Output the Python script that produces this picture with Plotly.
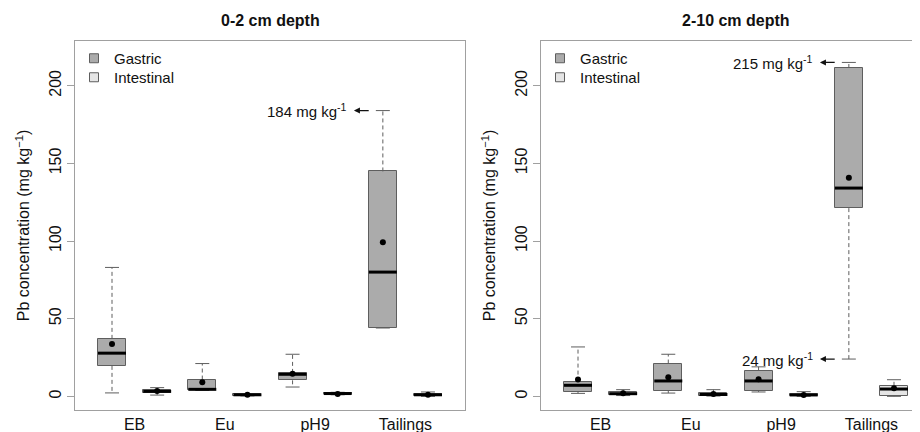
import plotly.graph_objects as go

# ---------------- data ----------------
categories = ["EB", "Eu", "pH9", "Tailings"]
panel_titles = ["0-2 cm depth", "2-10 cm depth"]
group_names = ["Gastric", "Intestinal"]

# 0-2 cm depth
g1_lower = [2.2, 3.8, 6.0, 44.0]
g1_q1 = [19.6, 3.9, 10.3, 44.0]
g1_median = [27.8, 4.5, 14.2, 80.0]
g1_q3 = [37.0, 10.8, 15.1, 144.8]
g1_upper = [83.0, 21.1, 27.1, 184.0]
g1_mean = [33.7, 9.0, 14.6, 99.2]

i1_lower = [0.8, 0.3, 1.0, 0.0]
i1_q1 = [2.1, 0.5, 1.3, 0.3]
i1_median = [3.2, 1.0, 1.8, 1.0]
i1_q3 = [3.9, 1.5, 2.3, 1.5]
i1_upper = [5.6, 1.8, 2.6, 2.8]
i1_mean = [3.4, 1.0, 1.5, 1.0]

# 2-10 cm depth
g2_lower = [1.9, 2.1, 2.8, 24.0]
g2_q1 = [3.0, 3.7, 3.4, 121.2]
g2_median = [7.1, 9.9, 9.9, 134.1]
g2_q3 = [9.5, 21.1, 16.6, 211.4]
g2_upper = [31.8, 27.1, 19.0, 215.0]
g2_mean = [10.8, 12.3, 11.0, 140.8]

i2_lower = [0.5, 0.2, 0.0, 0.0]
i2_q1 = [0.9, 0.4, 0.3, 0.2]
i2_median = [1.7, 1.2, 0.9, 4.7]
i2_q3 = [2.6, 2.1, 1.5, 6.8]
i2_upper = [4.3, 4.3, 3.0, 10.7]
i2_mean = [2.0, 1.5, 0.9, 5.2]

y_ticks = [0, 50, 100, 150, 200]

# labelled whisker ends: (panel, category index, group index, which end)
labelled = [(0, 3, 0, "upper"), (1, 3, 0, "upper"), (1, 3, 0, "lower")]

# ---------------- styling ----------------
FILL = ["#ABABAB", "#E5E5E5"]
EDGE = "#5E5E5E"
FRAME = "#A0A0A0"
FONT = "Liberation Sans, Arial, sans-serif"
BOXW = 0.62
CAPW = 0.31

# page has an 8px body margin; layout in figure pixels
W, H = 920, 432
ML, MT, MR, MB = 67, 33, 0, 30
PW = W - ML - MR          # 853
PH = H - MT - MB          # 369
PX_PER_UNIT = 390 / 8.64

panels = [
    [dict(lower=g1_lower, q1=g1_q1, median=g1_median, q3=g1_q3, upper=g1_upper, mean=g1_mean),
     dict(lower=i1_lower, q1=i1_q1, median=i1_median, q3=i1_q3, upper=i1_upper, mean=i1_mean)],
    [dict(lower=g2_lower, q1=g2_q1, median=g2_median, q3=g2_q3, upper=g2_upper, mean=g2_mean),
     dict(lower=i2_lower, q1=i2_q1, median=i2_median, q3=i2_q3, upper=i2_upper, mean=i2_mean)],
]

fig = go.Figure()

legend_ids = [["legend", "legend3"], ["legend2", "legend4"]]

for p, groups in enumerate(panels):
    xa = "x" if p == 0 else "x2"
    ya = "y" if p == 0 else "y2"
    for g, d in enumerate(groups):
        pos = [2 * i + 1 + g for i in range(len(categories))]
        # whiskers (dashed)
        wx, wy = [], []
        for k, x in enumerate(pos):
            wx += [x, x, None, x, x, None]
            wy += [d["q3"][k], d["upper"][k], None, d["q1"][k], d["lower"][k], None]
        fig.add_trace(go.Scatter(x=wx, y=wy, mode="lines", xaxis=xa, yaxis=ya,
                                 line=dict(color=EDGE, width=1, dash="4px,3px"),
                                 showlegend=False, hoverinfo="skip"))
        # caps
        cx, cy = [], []
        for k, x in enumerate(pos):
            for end in ("upper", "lower"):
                cx += [x - CAPW / 2, x + CAPW / 2, None]
                cy += [d[end][k], d[end][k], None]
        fig.add_trace(go.Scatter(x=cx, y=cy, mode="lines", xaxis=xa, yaxis=ya,
                                 line=dict(color=EDGE, width=1),
                                 showlegend=False, hoverinfo="skip"))
        # boxes
        fig.add_trace(go.Bar(x=pos, y=[d["q3"][k] - d["q1"][k] for k in range(len(pos))],
                             base=d["q1"], width=BOXW, xaxis=xa, yaxis=ya,
                             marker=dict(color=FILL[g], line=dict(color=EDGE, width=1)),
                             showlegend=False, hoverinfo="skip"))
        # medians
        mx, my = [], []
        for k, x in enumerate(pos):
            mx += [x - BOXW / 2, x + BOXW / 2, None]
            my += [d["median"][k], d["median"][k], None]
        fig.add_trace(go.Scatter(x=mx, y=my, mode="lines", xaxis=xa, yaxis=ya,
                                 line=dict(color="black", width=3),
                                 showlegend=False, hoverinfo="skip"))
        # means
        fig.add_trace(go.Scatter(x=pos, y=d["mean"], mode="markers", xaxis=xa, yaxis=ya,
                                 marker=dict(color="black", size=6),
                                 showlegend=False, hoverinfo="skip"))
        # legend entry
        fig.add_trace(go.Scatter(x=[None], y=[None], mode="markers", xaxis=xa, yaxis=ya,
                                 name=group_names[g], legend=legend_ids[p][g],
                                 marker=dict(symbol="square", size=9, color=FILL[g],
                                             line=dict(color=EDGE, width=1))))

# annotations for labelled whisker ends
annotations = []
for (p, c, g, end) in labelled:
    d = panels[p][g]
    v = d[end][c]
    x = 2 * c + 1 + g
    xr = "x" if p == 0 else "x2"
    yr = "y" if p == 0 else "y2"
    annotations.append(dict(x=x - 0.74, y=v, xref=xr, yref=yr, xanchor="right", yanchor="middle",
                            text=f"{round(v)} mg kg<sup>-1</sup>", showarrow=False,
                            font=dict(family=FONT, size=15, color="#111")))
    annotations.append(dict(x=x - 0.64, y=v, ax=x - 0.28, ay=v, xref=xr, yref=yr,
                            axref=xr, ayref=yr, text="", showarrow=True,
                            arrowhead=2, arrowsize=1, arrowwidth=1.2, arrowcolor="#111",
                            standoff=0, startstandoff=0))

# panel domains (figure pixels -> paper fractions)
left_px = [0, 466]
dom = [[0.0, 390 / PW], [466 / PW, 1.0]]
for p, t in enumerate(panel_titles):
    annotations.append(dict(x=(left_px[p] + 195) / PW, y=1 + 20 / PH, xref="paper", yref="paper",
                            xanchor="center", yanchor="middle", showarrow=False,
                            text=f"<b>{t}</b>", font=dict(family=FONT, size=16, color="#111")))

ytitle = "Pb concentration (mg kg<sup>−1</sup>)"
yaxis_common = dict(range=[-8.8, 228.8], tickvals=y_ticks, tickangle=-90,
                    ticks="outside", ticklen=7, tickcolor=FRAME, showgrid=False,
                    zeroline=False, showline=True, linecolor=FRAME, linewidth=1,
                    tickfont=dict(family=FONT, size=16, color="#111"),
                    title=dict(text=ytitle, font=dict(family=FONT, size=16, color="#111"), standoff=12))
xaxis_common = dict(tickvals=[2 * i + 1.5 for i in range(len(categories))], ticktext=categories,
                    ticks="", showgrid=False, zeroline=False, showline=True, linecolor=FRAME,
                    linewidth=1, mirror=True,
                    tickfont=dict(family=FONT, size=16, color="#111"))


def legend_at(px_left, top_px):
    return dict(x=px_left / PW, y=(PH + MT - top_px) / PH,
                xref="paper", yref="paper", xanchor="left", yanchor="top",
                bgcolor="rgba(0,0,0,0)", font=dict(family=FONT, size=15, color="#111"),
                tracegroupgap=0, itemsizing="trace")


fig.update_layout(
    width=W, height=H,
    margin=dict(l=ML, r=MR, t=MT, b=MB, autoexpand=False),
    plot_bgcolor="white", paper_bgcolor="white",
    font=dict(family=FONT, size=16, color="#111"),
    xaxis=dict(domain=dom[0], range=[0.18, 8.82], anchor="y", **xaxis_common),
    xaxis2=dict(domain=dom[1], range=[0.18, 0.18 + (PW - 466) / PX_PER_UNIT], anchor="y2", **xaxis_common),
    yaxis=dict(anchor="x", mirror=True, **yaxis_common),
    yaxis2=dict(anchor="x2", mirror=False, **yaxis_common),
    legend=legend_at(-1, 34),
    legend3=legend_at(-1, 53),
    legend2=legend_at(465, 34),
    legend4=legend_at(465, 53),
    annotations=annotations,
    showlegend=True,
    bargap=0,
)

fig.write_html("out.html")
